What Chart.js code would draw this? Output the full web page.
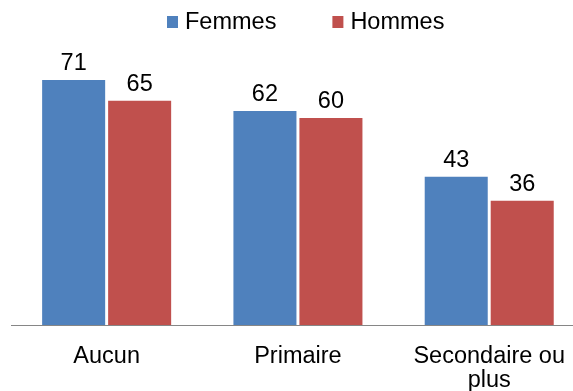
<!DOCTYPE html>
<html>
<head>
<meta charset="utf-8">
<script src="https://cdn.jsdelivr.net/npm/chart.js@4"></script>
<style>
html,body{margin:0;padding:0;background:#fff;overflow:hidden;width:573px;height:391px;}
#c{display:block;}
</style>
</head>
<body>
<canvas id="c" width="585" height="391"></canvas>
<script>
const categories = [["Aucun"], ["Primaire"], ["Secondaire ou", "plus"]];
const seriesNames = ["Femmes", "Hommes"];
const femmes = [71, 62, 43];
const hommes = [65, 60, 36];
const colors = ["#4F81BD", "#C0504D"];

const FONT = "'Liberation Sans', Arial, sans-serif";
const FS = 23.5;

const valueLabels = {
  id: 'valueLabels',
  afterDatasetsDraw(chart) {
    const ctx = chart.ctx;
    ctx.save();
    ctx.font = FS + "px " + FONT;
    ctx.fillStyle = "#000";
    ctx.textAlign = "center";
    ctx.textBaseline = "alphabetic";
    chart.data.datasets.forEach((ds, i) => {
      const meta = chart.getDatasetMeta(i);
      meta.data.forEach((bar, j) => {
        ctx.fillText(String(ds.data[j]), bar.x, bar.y - 10);
      });
    });
    ctx.restore();
  }
};

const customLegend = {
  id: 'customLegend',
  afterDraw(chart) {
    const ctx = chart.ctx;
    ctx.save();
    ctx.font = FS + "px " + FONT;
    ctx.textBaseline = "alphabetic";
    ctx.textAlign = "left";
    let x = 167;
    chart.data.datasets.forEach((ds, i) => {
      ctx.fillStyle = ds.backgroundColor;
      ctx.fillRect(x, 16, 11, 12);
      ctx.fillStyle = "#000";
      ctx.fillText(ds.label, x + 18, 29);
      x += 18 + ctx.measureText(ds.label).width + 56;
    });
    ctx.restore();
  }
};

new Chart(document.getElementById('c'), {
  type: 'bar',
  data: {
    labels: categories,
    datasets: [
      { label: seriesNames[0], data: femmes, backgroundColor: colors[0] },
      { label: seriesNames[1], data: hommes, backgroundColor: colors[1] }
    ]
  },
  options: {
    responsive: false,
    animation: false,
    devicePixelRatio: 1,
    layout: { padding: { left: 11, right: 0, top: 49, bottom: 0 } },
    datasets: { bar: { categoryPercentage: 0.69, barPercentage: 0.955, borderWidth: 0 } },
    plugins: { legend: { display: false }, tooltip: { enabled: false } },
    scales: {
      x: {
        afterFit: (s) => { s.height = 66; },
        grid: { display: false, drawTicks: false },
        border: { display: true, color: "#868686", width: 1 },
        ticks: { color: "#000", padding: 20, maxRotation: 0, autoSkip: false,
                 font: { family: FONT, size: FS, lineHeight: 1.0 } }
      },
      y: { display: false, min: 0, max: 80 }
    }
  },
  plugins: [valueLabels, customLegend]
});
</script>
</body>
</html>
